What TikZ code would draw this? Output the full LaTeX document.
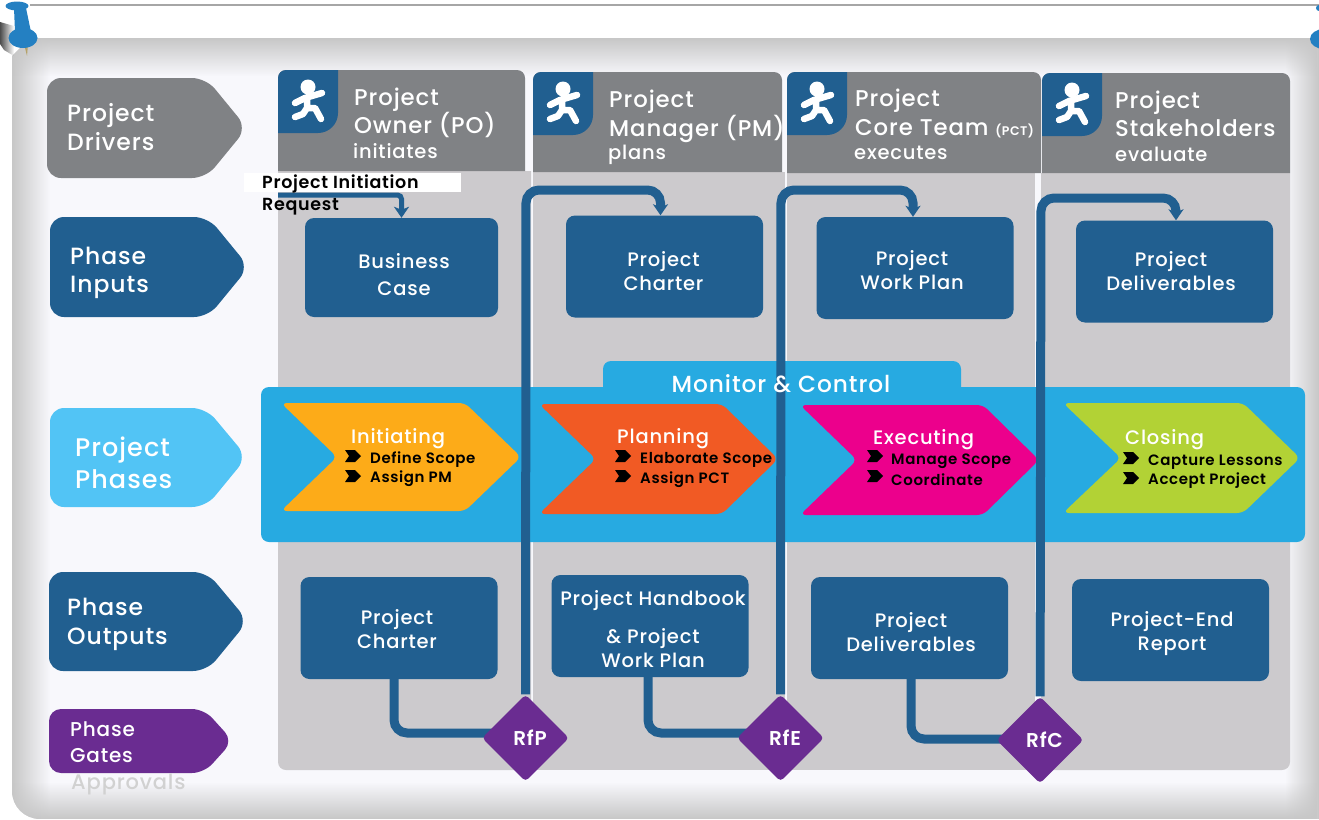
\documentclass[tikz,border=0pt]{standalone}
\usepackage{fontspec}
\setmainfont{Poppins Medium}[BoldFont=Poppins SemiBold,LetterSpace=4]
\usetikzlibrary{arrows.meta,fadings,shapes.geometric}
\definecolor{navy}{HTML}{215F90}
\definecolor{slate}{HTML}{808285}
\definecolor{laneback}{HTML}{CCCACD}
\definecolor{board}{HTML}{F8F8FC}
\definecolor{sky}{HTML}{27AAE1}
\definecolor{skylight}{HTML}{52C4F5}
\definecolor{grape}{HTML}{6A2C91}
\definecolor{pinblue}{HTML}{2480C2}
\definecolor{needle}{HTML}{B5A26A}
\definecolor{initcol}{HTML}{FDAB18}
\definecolor{plancol}{HTML}{F15A24}
\definecolor{execcol}{HTML}{EC008C}
\definecolor{closecol}{HTML}{B2D235}
\pgfdeclarelayer{front}
\pgfsetlayers{main,front}
\tikzset{
  runner/.pic={
    \fill[white] (30,17) circle (7.5);
    \draw[white,line width=6.5pt,line cap=round,line join=round]
      (17,33) -- (27,28) -- (44,23) (29,28) -- (29,38) -- (37,38) -- (43,49)
      (29,38) -- (25,44) -- (17,47);
  },
  tick/.pic={
    \fill[black] (0,-6) -- (10,-6) -- (16,0) -- (10,6) -- (0,6) -- (4,0) -- cycle;
  }
}
\begin{document}
\begin{tikzpicture}
  [x=1pt,y=-1pt,
   drivertext/.style={text=white,anchor=west,align=left,inner sep=0,font=\fontsize{23.5}{28.5}\selectfont},
   headtext/.style={text=white,anchor=west,inner sep=0,font=\fontsize{22.8}{28}\selectfont},
   subtext/.style={text=white,anchor=west,inner sep=0,font=\fontsize{19.5}{23}\selectfont},
   phasebox/.style={fill=navy,rounded corners=9,minimum width=197,minimum height=102,inner sep=0},
   boxtext/.style={text=white,align=center,inner sep=0,font=\fontsize{19.5}{24}\selectfont},
   gatebox/.style={diamond,aspect=1,fill=grape,rounded corners=4,minimum width=87,minimum height=87,inner sep=0,
     text=white,font=\bfseries\fontsize{20}{23}\selectfont},
   phasetitle/.style={text=white,anchor=west,inner sep=0,font=\fontsize{19.5}{23}\selectfont},
   steptext/.style={text=black,anchor=west,inner sep=0,font=\bfseries\fontsize{15}{18}\selectfont},
   link/.style={navy,line width=9pt,rounded corners=13},
   flow/.style={link,-{Stealth[length=11pt,width=15pt,inset=3pt]}},
   edge/.style={fill=black!22}]
  \useasboundingbox (0,0) rectangle (1319,819);

  % board
  \begin{scope}
    \clip (12,56) -- (30,38) -- (1340,38) -- (1340,819) [rounded corners=28] -- (12,819) [sharp corners] -- cycle;
    \fill[board] (0,30) rectangle (1319,819);
    \fill[edge,path fading=east] (12,38) rectangle (50,819);
    \fill[edge,path fading=west] (1285,38) rectangle (1319,819);
    \fill[edge,path fading=south] (12,38) rectangle (1319,76);
    \fill[edge,path fading=north] (12,782) rectangle (1319,819);
  \end{scope}
  \draw[black!35,line width=2pt] (30,5) -- (1319,5);

  % pins
  \fill[black!70,path fading=east] (0,22) -- (14,26) -- (14,56) -- (4,50) -- (0,44) -- cycle;
  \fill[needle] (24,44) -- (28,44) -- (27,56) -- cycle;
  \fill[pinblue] (23,38) ellipse (14.5 and 10);
  \fill[pinblue] (14,8) -- (26,8) -- (31,32) -- (15,32) -- cycle;
  \fill[pinblue] (17,6) ellipse (11.5 and 4.5);
  \fill[pinblue] (1324,39) ellipse (14 and 10);
  \fill[pinblue] (1319,8) circle (3);

  % lanes
  \fill[laneback] (278,171) [rounded corners=8] -- (278,770) [sharp corners] -- (531,770) -- (531,171) -- cycle;
  \fill[laneback] (533,172) rectangle (785,770);
  \fill[laneback] (787,173) rectangle (1035,770);
  \fill[laneback] (1041,173) -- (1041,770) [rounded corners=8] -- (1290,770) [sharp corners] -- (1290,173) -- cycle;
  \fill[slate] (278,171) [rounded corners=8] -- (278,70) -- (525,70) [sharp corners] -- (525,171) -- cycle;
  \fill[slate] (533,172) [rounded corners=8] -- (533,72) -- (782,72) [sharp corners] -- (782,172) -- cycle;
  \fill[slate] (787,173) [rounded corners=8] -- (787,72) -- (1041,72) [sharp corners] -- (1041,173) -- cycle;
  \fill[slate] (1042,173) [rounded corners=8] -- (1042,73) -- (1290,73) [sharp corners] -- (1290,173) -- cycle;
  \foreach \x/\y in {278/70,533/72,787/72,1042/73} {
    \fill[navy] (\x+8,\y) -- (\x+60,\y) -- (\x+60,\y+43) arc (0:90:20) -- (\x,\y+63) -- (\x,\y+8) arc (180:270:8) -- cycle;
    \pic at (\x,\y) {runner};
  }
  \node[headtext] (ownerA) at (354,100) {Project};
  \node[headtext] (ownerB) at (354,125) {Owner (PO)};
  \node[subtext] (ownerC) at (353,151) {initiates};
  \node[headtext] (managerA) at (609,102) {Project};
  \node[headtext] (managerB) at (609,129) {Manager (PM)};
  \node[subtext] (managerC) at (608,155) {plans};
  \node[headtext] (coreA) at (855,101) {Project};
  \node[headtext] (coreB) at (855,129) {Core Team {\bfseries\fontsize{12.5}{16}\selectfont(PCT)}};
  \node[subtext] (coreC) at (854,153) {executes};
  \node[headtext] (holderA) at (1115,103) {Project};
  \node[headtext] (holderB) at (1115,128) {Stakeholders};
  \node[subtext] (holderC) at (1115,154) {evaluate};

  % row labels
  \fill[slate,rounded corners=14] (47,78) -- (206,78) -- (247,128) -- (206,178) -- (47,178) -- cycle;
  \fill[navy,rounded corners=14] (50,217) -- (208,217) -- (249,267) -- (208,317) -- (50,317) -- cycle;
  \fill[skylight,rounded corners=14] (50,408) -- (206,408) -- (247,457) -- (206,507) -- (50,507) -- cycle;
  \fill[navy,rounded corners=14] (49,572) -- (207,572) -- (248,621) -- (207,671) -- (49,671) -- cycle;
  \fill[grape,rounded corners=12] (49,709) -- (204,709) -- (233,741) -- (204,773) -- (49,773) -- cycle;
  \node[drivertext] (drivers) at (67,127) {Project\\Drivers};
  \node[drivertext] (inputs) at (70,273) {Phase\\Inputs};
  \node[drivertext,font=\fontsize{25.5}{32}\selectfont] (phases) at (75,463) {Project\\Phases};
  \node[drivertext] (outputs) at (67,624.5) {Phase\\Outputs};
  \node[drivertext,font=\fontsize{20}{26}\selectfont] (gates) at (70,742) {Phase\\Gates};
  \node[drivertext,text=black!18,font=\fontsize{21}{23}\selectfont] (approvals) at (71,784) {Approvals};

  % band
  \fill[sky,rounded corners=8] (261,387) rectangle (1305,542);
  \fill[sky,rounded corners=8] (603,395) -- (603,361) -- (961,361) -- (961,395) -- cycle;
  \fill[initcol,rounded corners=6] (281,403) -- (465,403) -- (521,457) -- (465,511) -- (281,511) -- (337,457) -- cycle;
  \fill[plancol,rounded corners=6] (539,404) -- (722,404) -- (778,459) -- (722,514) -- (539,514) -- (596,459) -- cycle;
  \fill[execcol,rounded corners=6] (800,405) -- (983,405) -- (1039,460) -- (983,515) -- (800,515) -- (857,460) -- cycle;
  \fill[closecol,rounded corners=6] (1063,403) -- (1243,403) -- (1300,458) -- (1243,513) -- (1063,513) -- (1121,458) -- cycle;

  \node[phasetitle] (initiating) at (351,439) {Initiating};
  \node[steptext] (scopeA) at (370,460) {Define Scope};
  \node[steptext] (assignA) at (370,479) {Assign PM};
  \node[phasetitle] (planning) at (617,439) {Planning};
  \node[steptext] (scopeB) at (640,460) {Elaborate Scope};
  \node[steptext] (assignB) at (640,480) {Assign PCT};
  \node[phasetitle] (executing) at (873,440) {Executing};
  \node[steptext] (scopeC) at (891,461) {Manage Scope};
  \node[steptext] (assignC) at (891,480) {Coordinate};
  \node[phasetitle] (closing) at (1125,440) {Closing};
  \node[steptext] (scopeD) at (1148,462) {Capture Lessons};
  \node[steptext] (assignD) at (1148,481) {Accept Project};
  \foreach \x/\y in {345/456,345/476,615/456,615/476,867/456,867/476,1123/458,1123/478}
    \pic at (\x,\y) {tick};

  % boxes
  \node[phasebox,minimum width=193,minimum height=99] (inCase) at (401.5,267.5) {};
  \node[phasebox] (inCharter) at (664.5,266.5) {};
  \node[phasebox] (inPlan) at (915,268) {};
  \node[phasebox] (inDeliver) at (1174.5,271.5) {};
  \node[phasebox] (outCharter) at (399,628) {};
  \node[phasebox] (outBook) at (650,626) {};
  \node[phasebox] (outDeliver) at (909.5,628) {};
  \node[phasebox] (outReport) at (1170.5,630) {};
  \node[boxtext] (textCase) at (404,275) {Business\\[3pt]Case};
  \node[boxtext] (textCharter) at (663.5,271) {Project\\Charter};
  \node[boxtext] (textPlan) at (912,270) {Project\\Work Plan};
  \node[boxtext] (textDeliver) at (1171,271.5) {Project\\Deliverables};
  \node[boxtext] (textOut) at (397,629) {Project\\Charter};
  \node[boxtext] (textBook) at (653,629.5) {Project Handbook\\[14pt]\& Project\\Work Plan};
  \node[boxtext] (textOutDel) at (911,632) {Project\\Deliverables};
  \node[boxtext] (textReport) at (1172,634) {Project-End\\Report};

  % gates
  \begin{pgfonlayer}{front}
    \node[gatebox] (gateP) at (525.5,738) {\hspace*{9pt}RfP};
    \node[gatebox] (gateE) at (780.5,738) {\hspace*{9pt}RfE};
    \node[gatebox] (gateC) at (1040,740) {\hspace*{9pt}RfC};
  \end{pgfonlayer}

  % links
  \coordinate (reqStart) at (278,195);
  \coordinate (topP) at (526,190);
  \coordinate (topE) at (781,190);
  \coordinate (topC) at (1041,198);
  \draw[flow,line width=5pt,rounded corners=4] (reqStart) -| (inCase.north);
  \draw[flow] (gateP) -- (topP) -| ([xshift=-4pt]inCharter.north);
  \draw[flow] (gateE) -- (topE) -| ([xshift=-2pt]inPlan.north);
  \draw[flow] (gateC) -- (topC) -| ([xshift=1.5pt]inDeliver.north);
  \draw[link] ([xshift=-5pt]outCharter.south) |- ([yshift=5pt]gateP.center);
  \draw[link] ([xshift=-2pt]outBook.south) |- ([yshift=5pt]gateE.center);
  \draw[link] ([xshift=1.5pt]outDeliver.south) |- ([yshift=1pt]gateC.center);

  \node[text=white,inner sep=0,font=\fontsize{23.3}{28}\selectfont] (monitor) at (781,384) {Monitor \& Control};

  % request label
  \fill[white] (244,173) rectangle (461,192);
  \node[text=black,anchor=west,align=left,inner sep=0,font=\bfseries\fontsize{17.5}{22}\selectfont] (request) at (262,195) {Project Initiation\\Request};
\end{tikzpicture}
\end{document}
